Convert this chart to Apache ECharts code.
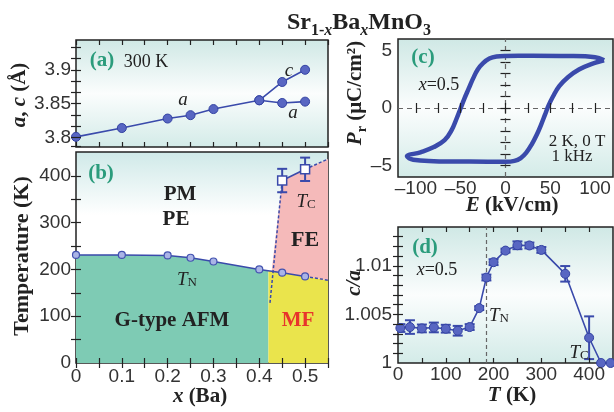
<!DOCTYPE html>
<html><head><meta charset="utf-8">
<script src="https://cdn.jsdelivr.net/npm/echarts@6/dist/echarts.min.js"></script>
<style>html,body{margin:0;padding:0;background:#fff}#c{width:614px;height:412px}</style>
</head><body><div id="c"></div><script>
// ---------- (a) lattice constants at 300 K ----------
const xLattice = [0, 0.1, 0.2, 0.25, 0.3, 0.4, 0.45, 0.5];
const aLattice = [3.801, 3.814, 3.828, 3.833, 3.842, 3.855, 3.851, 3.853];
const xCLattice = [0.4, 0.45, 0.5];
const cLattice = [3.855, 3.882, 3.900];
// ---------- (b) phase diagram ----------
const xTN = [0, 0.1, 0.2, 0.25, 0.3, 0.4, 0.45, 0.5];
const TN = [231, 231, 230, 225, 217, 200, 193, 185];
const TNext = [[0.5, 185], [0.55, 177]];
const xTC = [0.45, 0.5];
const TC = [390, 414];
const TCerr = [25, 25];
const TCextUp = [[0.5, 414], [0.55, 436]];
const TCextDown = [[0.45, 390], [0.423, 125]];
const afmRegion = [[0, 0], [0, 231], [0.1, 231], [0.2, 230], [0.25, 225], [0.3, 217], [0.4, 200], [0.42, 197], [0.42, 0]];
const mfRegion = [[0.42, 0], [0.42, 197], [0.45, 193], [0.5, 185], [0.55, 177], [0.55, 0]];
const feRegion = [[0.427, 196], [0.45, 390], [0.5, 414], [0.55, 436], [0.55, 177], [0.5, 185], [0.45, 193]];
// ---------- (c) P-E loop (upper branch E decreasing, then lower branch E increasing) ----------
const loopE = [110, 100, 70, 30, 0, -10, -18, -25, -31, -36, -41, -46, -50, -55, -60, -68, -80, -95, -110,
               -103, -80, -40, 0, 10, 17, 23, 29, 35, 40, 44, 48, 53, 60, 70, 82, 95, 110];
const loopP = [4.15, 4.42, 4.52, 4.54, 4.53, 4.48, 4.3, 3.9, 3.35, 2.6, 1.7, 0.8, 0, -1.0, -1.9, -2.8, -3.4, -3.85, -4.2,
               -4.5, -4.62, -4.66, -4.68, -4.6, -4.35, -3.9, -3.2, -2.3, -1.4, -0.6, 0.2, 1.0, 1.9, 2.7, 3.35, 3.8, 4.15];
// ---------- (d) c/a vs T ----------
const Td = [5, 25, 50, 75, 100, 125, 150, 170, 185, 200, 225, 250, 275, 300, 350, 400, 425, 445];
const cOverA = [1.0036, 1.0037, 1.00356, 1.00366, 1.00353, 1.00332, 1.0037, 1.00565, 1.0088, 1.01038, 1.01157, 1.01212, 1.0121, 1.01164, 1.00918, 1.0026, 1.0, 1.0];
const cOverAErr = [0.0004, 0.0007, 0.0004, 0.0005, 0.0004, 0.0005, 0.0003, 0.0002, 0.0003, 0.0003, 0.0002, 0.0004, 0.0003, 0.0003, 0.0008, 0.0022, 0, 0];
// ---------- ticks / labels ----------
const xBaTicks = [0, 0.05, 0.1, 0.15, 0.2, 0.25, 0.3, 0.35, 0.4, 0.45, 0.5, 0.55];
const xBaLabels = [0, 0.1, 0.2, 0.3, 0.4, 0.5];
const aTicks = [3.7867, 3.8, 3.8167, 3.8333, 3.85, 3.8667, 3.8833, 3.9, 3.9167, 3.9333];
const aLabels = [3.8, 3.85, 3.9];
const tTicks = [50, 100, 150, 200, 250, 300, 350, 400];
const tLabels = [0, 100, 200, 300, 400];
const eTicks = [-100, -75, -50, -25, 0, 25, 50, 75, 100];
const eLabels = [-100, -50, 0, 50, 100];
const pTicks = [-5, -4, -3, -2, -1, 0, 1, 2, 3, 4, 5];
const pLabels = [-5, 0, 5];
const dxTicks = [50, 100, 150, 200, 250, 300, 350, 400];
const dxLabels = [0, 100, 200, 300, 400];
const dyTicks = [1.001, 1.002, 1.003, 1.004, 1.005, 1.006, 1.007, 1.008, 1.009, 1.01, 1.011, 1.012, 1.013];
const dyLabels = [1, 1.005, 1.01];

const BLUE = '#3a4aab';
const SERIF = '"Liberation Serif", "DejaVu Serif", serif';
const SANS = '"Liberation Sans Narrow", "Liberation Sans", Arial, sans-serif';
const INK = '#222';

function grad2() {
  return {type: 'linear', x: 0, y: 0, x2: 0, y2: 1, colorStops: [
    {offset: 0, color: '#cfe8e5'}, {offset: 0.5, color: '#fbfdfd'}, {offset: 1, color: '#d3ebe8'}]};
}
function gradTop() {
  return {type: 'linear', x: 0, y: 0, x2: 0, y2: 1, colorStops: [
    {offset: 0, color: '#cfe9e8'}, {offset: 0.3, color: '#ffffff'}, {offset: 1, color: '#ffffff'}]};
}
function axis(gi, pos, min, max, ticks, labels, fmt, margin) {
  return {
    type: 'value', gridIndex: gi, position: pos, min: min, max: max,
    axisLine: {show: false}, splitLine: {show: false},
    axisTick: {show: true, inside: true, length: 5, customValues: ticks, lineStyle: {color: INK, width: 1.2}},
    axisLabel: {show: !!labels, customValues: labels || [], formatter: fmt, margin: margin || 5,
      color: '#333', fontFamily: SANS, fontSize: 19},
    z: 10
  };
}
const dashFmt = v => (v < 0 ? '\u2013' + Math.abs(v) : String(v));

function polyItem(points, color) {
  return {
    type: 'custom', xAxisIndex: 2, yAxisIndex: 2, data: [[0, 0]], silent: true, z: 1,
    renderItem: (p, api) => ({type: 'polygon', shape: {points: points.map(q => api.coord(q))}, style: {fill: color}})
  };
}
function errSeries(xi, yi, xs, ys, es, cap, z) {
  return {
    type: 'custom', xAxisIndex: xi, yAxisIndex: yi, clip: true, silent: true, z: z || 4,
    data: xs.map((x, i) => [x, ys[i], es[i]]).filter(d => d[2] > 0),
    renderItem: (p, api) => {
      const x = api.value(0), y = api.value(1), e = api.value(2);
      const a = api.coord([x, y - e]), b = api.coord([x, y + e]);
      const st = {stroke: BLUE, lineWidth: 2};
      return {type: 'group', children: [
        {type: 'line', shape: {x1: a[0], y1: a[1], x2: b[0], y2: b[1]}, style: st},
        {type: 'line', shape: {x1: a[0] - cap, y1: a[1], x2: a[0] + cap, y2: a[1]}, style: st},
        {type: 'line', shape: {x1: b[0] - cap, y1: b[1], x2: b[0] + cap, y2: b[1]}, style: st}
      ]};
    }
  };
}
const dotStyle = {color: '#5866c2', borderColor: '#3443a3', borderWidth: 1};

function T(x, y, text, st, extra) {
  return Object.assign({type: 'text', x: x, y: y, z: 100, silent: true,
    style: Object.assign({text: text, fontFamily: SERIF, fontSize: 18, fill: INK, align: 'center', verticalAlign: 'middle'}, st)}, extra || {});
}
const GREEN_T = '#2b9c7c';
const richAx = {
  i: {fontFamily: SERIF, fontStyle: 'italic', fontWeight: 'bold', fontSize: 21, fill: INK},
  s: {fontFamily: SERIF, fontWeight: 'bold', fontSize: 14, verticalAlign: 'bottom', lineHeight: 14, fill: INK}
};
const axTitle = {fontWeight: 'bold', fontSize: 21, lineHeight: 26, rich: richAx};
const richSub = {
  t: {fontFamily: SERIF, fontStyle: 'italic', fontSize: 19, fill: INK},
  s: {fontFamily: SERIF, fontSize: 13, verticalAlign: 'bottom', lineHeight: 13, fill: INK}
};

const option = {
  animation: false,
  backgroundColor: '#fff',
  grid: [
    {left: 76, top: 40, width: 252, height: 107, show: true, borderColor: INK, borderWidth: 1.5, backgroundColor: grad2()},
    {left: 76, top: 152, width: 252, height: 211, show: true, borderColor: INK, borderWidth: 1.5, backgroundColor: gradTop()},
    {left: 398, top: 39, width: 215, height: 138, show: true, borderColor: INK, borderWidth: 1.5, backgroundColor: grad2()},
    {left: 398, top: 227, width: 215, height: 136, show: true, borderColor: INK, borderWidth: 1.5, backgroundColor: grad2()}
  ],
  xAxis: [
    axis(0, 'bottom', 0, 0.55, xBaTicks, null),
    axis(0, 'top', 0, 0.55, xBaTicks, null),
    axis(1, 'bottom', 0, 0.55, xBaTicks, xBaLabels, null, 4),
    axis(1, 'top', 0, 0.55, xBaTicks, null),
    axis(2, 'bottom', -120, 120, eTicks, eLabels, dashFmt, 2),
    axis(2, 'top', -120, 120, eTicks, null),
    axis(3, 'bottom', 0, 450, dxTicks, dxLabels, null, 2),
    axis(3, 'top', 0, 450, dxTicks, null)
  ],
  yAxis: [
    axis(0, 'left', 3.786, 3.944, aTicks, aLabels),
    axis(0, 'right', 3.786, 3.944, aTicks, null),
    axis(1, 'left', 0, 451, tTicks, tLabels),
    axis(1, 'right', 0, 451, tTicks, null),
    axis(2, 'left', -6, 6, pTicks, pLabels, dashFmt, 6),
    axis(2, 'right', -6, 6, pTicks, null),
    axis(3, 'left', 1, 1.014, dyTicks, dyLabels, null, 6),
    axis(3, 'right', 1, 1.014, dyTicks, null)
  ],
  series: [
    // (a)
    {type: 'line', xAxisIndex: 0, yAxisIndex: 0, data: xLattice.map((x, i) => [x, aLattice[i]]),
      symbol: 'circle', symbolSize: 9, lineStyle: {color: BLUE, width: 1.6}, itemStyle: dotStyle, z: 5},
    {type: 'line', xAxisIndex: 0, yAxisIndex: 0, data: xCLattice.map((x, i) => [x, cLattice[i]]),
      symbol: 'circle', symbolSize: 9, lineStyle: {color: BLUE, width: 1.6}, itemStyle: dotStyle, z: 5},
    // (b) regions
    polyItem(afmRegion, '#7ecbb4'),
    polyItem(mfRegion, '#eae44c'),
    polyItem(feRegion, '#f5baba'),
    // (b) lines
    {type: 'line', xAxisIndex: 2, yAxisIndex: 2, data: TNext, symbol: 'none', lineStyle: {color: BLUE, width: 1.5, type: [3, 2]}, z: 4},
    {type: 'line', xAxisIndex: 2, yAxisIndex: 2, data: TCextUp, symbol: 'none', lineStyle: {color: BLUE, width: 1.5, type: [3, 2]}, z: 4},
    {type: 'line', xAxisIndex: 2, yAxisIndex: 2, data: TCextDown, symbol: 'none', lineStyle: {color: BLUE, width: 1.5, type: [3, 2]}, z: 4},
    {type: 'line', xAxisIndex: 2, yAxisIndex: 2, data: xTN.map((x, i) => [x, TN[i]]),
      symbol: 'circle', symbolSize: 7, lineStyle: {color: BLUE, width: 1.5},
      itemStyle: {color: '#aab4e6', borderColor: '#4352b0', borderWidth: 1.2}, z: 5},
    errSeries(2, 2, xTC, TC, TCerr, 5, 4),
    {type: 'line', xAxisIndex: 2, yAxisIndex: 2, data: xTC.map((x, i) => [x, TC[i]]),
      symbol: 'rect', symbolSize: 9, lineStyle: {color: BLUE, width: 1.6},
      itemStyle: {color: '#ffffff', borderColor: BLUE, borderWidth: 1.5}, z: 6},
    // (c)
    {type: 'line', xAxisIndex: 4, yAxisIndex: 4, data: [], z: 2,
      markLine: {silent: true, symbol: ['none', 'none'], label: {show: false},
        lineStyle: {color: '#666', width: 1.2, type: [5, 4]}, data: [{xAxis: 0}, {yAxis: 0}]}},
    {type: 'line', xAxisIndex: 4, yAxisIndex: 4, data: loopE.map((e, i) => [e, loopP[i]]),
      symbol: 'none', smooth: 0.4, lineStyle: {color: BLUE, width: 4.5}, z: 5},
    // (d)
    {type: 'line', xAxisIndex: 6, yAxisIndex: 6, data: [], z: 2,
      markLine: {silent: true, symbol: ['none', 'none'], label: {show: false},
        lineStyle: {color: '#666', width: 1.2, type: [4, 3]}, data: [{xAxis: 185}]}},
    errSeries(6, 6, Td, cOverA, cOverAErr, 5, 4),
    {type: 'line', xAxisIndex: 6, yAxisIndex: 6, data: Td.map((t, i) => [t, cOverA[i]]),
      symbol: 'circle', symbolSize: 9, lineStyle: {color: BLUE, width: 1.6}, itemStyle: dotStyle, z: 5}
  ],
  graphic: [
    T(359, 23, 'Sr{s|1-}{si|x}Ba{si|x}MnO{s|3}', {fontWeight: 'bold', fontSize: 24, lineHeight: 32, rich: {
      s: {fontFamily: SERIF, fontWeight: 'bold', fontSize: 16, verticalAlign: 'bottom', lineHeight: 17, fill: INK},
      si: {fontFamily: SERIF, fontWeight: 'bold', fontStyle: 'italic', fontSize: 16, verticalAlign: 'bottom', lineHeight: 17, fill: INK}}}),
    // axis titles
    T(20, 95, '{i|a}, {i|c} (\u00c5)', axTitle, {rotation: Math.PI / 2}),
    T(22, 256, 'Temperature (K)', Object.assign({}, axTitle, {fontSize: 22}), {rotation: Math.PI / 2}),
    T(200, 397, '{i|x} (Ba)', axTitle),
    T(356, 93, '{i|P}{s|r} (\u03bcC/cm\u00b2)', axTitle, {rotation: Math.PI / 2}),
    T(512, 206, '{i|E} (kV/cm)', axTitle),
    T(355, 283, '{i|c/a}', axTitle, {rotation: Math.PI / 2}),
    T(512, 396, '{i|T} (K)', axTitle),
    // (a)
    T(102, 61, '(a)', {fontWeight: 'bold', fontSize: 21, fill: GREEN_T}),
    T(146, 62, '300 K', {fontSize: 18}),
    T(183, 100, 'a', {fontStyle: 'italic', fontSize: 19}),
    T(289, 71, 'c', {fontStyle: 'italic', fontSize: 19}),
    T(293, 113, 'a', {fontStyle: 'italic', fontSize: 19}),
    // (b)
    T(101, 174, '(b)', {fontWeight: 'bold', fontSize: 21, fill: GREEN_T}),
    T(180, 195, 'PM', {fontWeight: 'bold', fontSize: 21}),
    T(176, 220, 'PE', {fontWeight: 'bold', fontSize: 21}),
    T(187, 280, '{t|T}{s|N}', {rich: richSub}),
    T(306, 202, '{t|T}{s|C}', {rich: richSub}),
    T(305, 240, 'FE', {fontWeight: 'bold', fontSize: 22}),
    T(172, 321, 'G-type AFM', {fontWeight: 'bold', fontSize: 21}),
    T(298, 321, 'MF', {fontWeight: 'bold', fontSize: 21, fill: '#e8342c'}),
    // (c)
    T(423, 58, '(c)', {fontWeight: 'bold', fontSize: 21, fill: GREEN_T}),
    T(439, 85, '{t|x}=0.5', {fontSize: 18, rich: {t: {fontFamily: SERIF, fontStyle: 'italic', fontSize: 18, fill: INK}}}),
    T(577, 142, '2 K, 0 T', {fontSize: 17}),
    T(572, 157, '1 kHz', {fontSize: 17}),
    // (d)
    T(425, 248, '(d)', {fontWeight: 'bold', fontSize: 21, fill: GREEN_T}),
    T(437, 270, '{t|x}=0.5', {fontSize: 18, rich: {t: {fontFamily: SERIF, fontStyle: 'italic', fontSize: 18, fill: INK}}}),
    T(499, 316, '{t|T}{s|N}', {rich: richSub}),
    T(579, 353, '{t|T}{s|C}', {rich: richSub})
  ]
};
const chart = echarts.init(document.getElementById('c'), null, {renderer: 'canvas'});
chart.setOption(option);
</script></body></html>
